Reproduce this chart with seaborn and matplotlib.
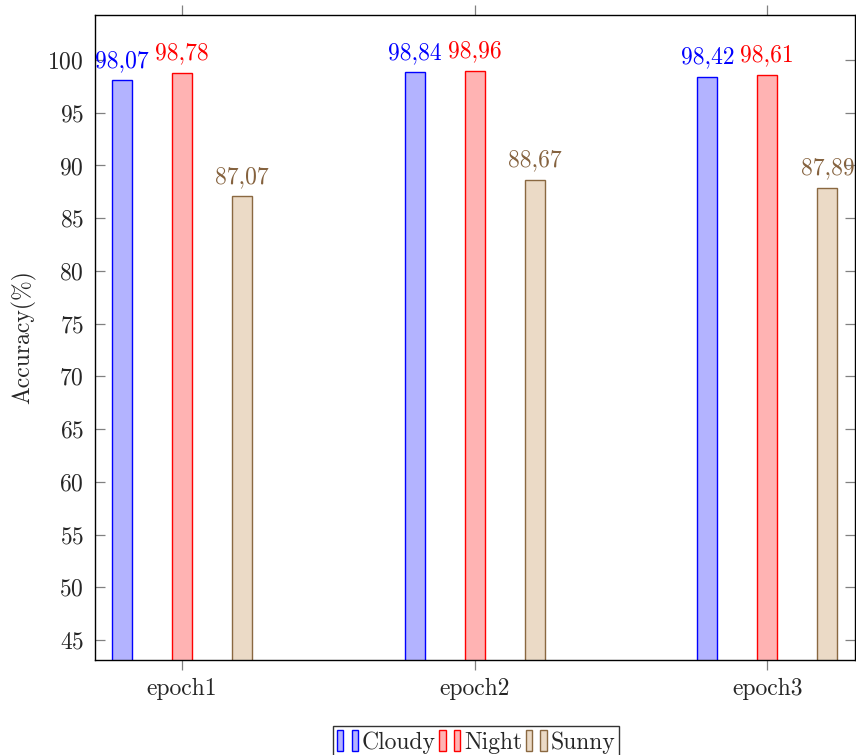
import pandas as pd
import seaborn as sns
import matplotlib.pyplot as plt
from matplotlib.patches import Rectangle
from matplotlib.legend_handler import HandlerTuple

# Daten
epochs = ['epoch1', 'epoch2', 'epoch3']
conditions = ['Cloudy', 'Night', 'Sunny']
cloudy = [98.07, 98.84, 98.42]
night = [98.78, 98.96, 98.61]
sunny = [87.07, 88.67, 87.89]
y_ticks = list(range(45, 101, 5))

fills = ['#b3b3ff', '#ffb3b3', '#ebdac6']
edges = ['#0000ff', '#ff0000', '#8a6841']
label_colors = ['#0000ff', '#ff0000', '#85623e']

df = pd.DataFrame({
    'epoch': epochs * 3,
    'condition': [c for c in conditions for _ in epochs],
    'acc': cloudy + night + sunny,
})

sns.set_style('white')
plt.rcParams['font.family'] = ['cmr10', 'DejaVu Serif']
plt.rcParams['axes.formatter.use_mathtext'] = True
fs = 17

fig = plt.figure(figsize=(8.56, 7.55), dpi=100)
ax = fig.add_axes([0.111, 0.1258, 0.888, 0.8543])

sns.barplot(data=df, x='epoch', y='acc', hue='condition', hue_order=conditions,
            palette=fills, saturation=1, width=0.615, gap=0.667, linewidth=1.0,
            ax=ax, legend=False)

for cont, ec, lc in zip(ax.containers, edges, label_colors):
    for bar in cont:
        bar.set_edgecolor(ec)
    ax.bar_label(cont, labels=[f'{v:.2f}'.replace('.', ',') for v in cont.datavalues],
                 color=lc, fontsize=fs, padding=6)

ax.set_xlim(-0.297, 2.3)
ax.set_ylim(43.1, 104.27)
ax.set_yticks(y_ticks)
ax.set_xlabel('')
ax.set_ylabel('Accuracy(%)', fontsize=fs, labelpad=8)

ax.tick_params(axis='y', direction='in', left=True, right=True, length=7,
               color='#808080', width=0.9, labelsize=fs, pad=8)
ax.tick_params(axis='x', direction='out', bottom=True, top=True, length=7,
               color='#808080', width=0.9, labelsize=fs, pad=6)

for s in ax.spines.values():
    s.set_color('black')
    s.set_linewidth(1.0)

# Legende unten
handles = []
for f, e in zip(fills, edges):
    handles.append((Rectangle((0, 0), 1, 1, facecolor=f, edgecolor=e, lw=1),
                    Rectangle((0, 0), 1, 1, facecolor=f, edgecolor=e, lw=1)))
leg = fig.legend(handles, conditions, loc='upper center', bbox_to_anchor=(0.556, 0.038),
                 ncol=3, frameon=True, fancybox=False, edgecolor='black',
                 fontsize=fs, handlelength=0.9, handleheight=1.0, handletextpad=0.15,
                 columnspacing=0.15, borderpad=0.15, borderaxespad=0,
                 handler_map={tuple: HandlerTuple(ndivide=None, pad=0.35)})
leg.get_frame().set_linewidth(1.0)

plt.savefig('out.png', dpi=100)
